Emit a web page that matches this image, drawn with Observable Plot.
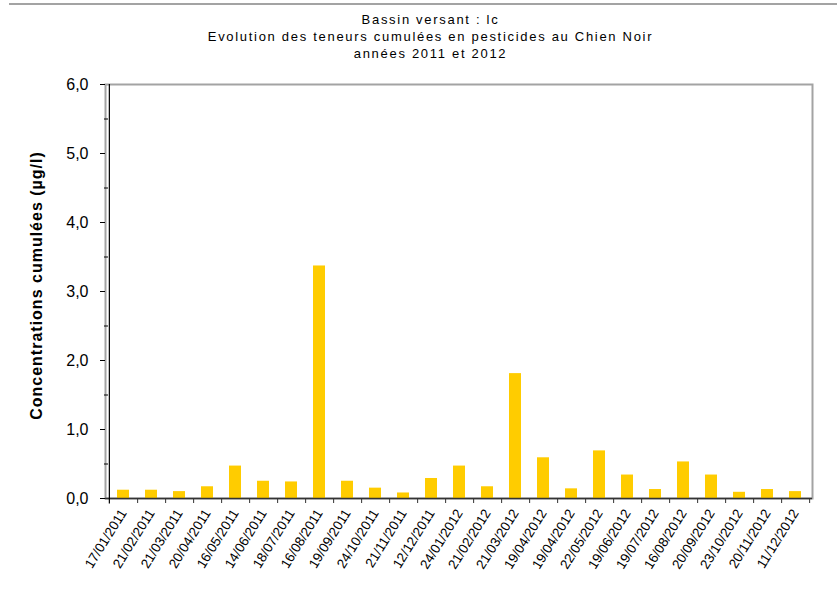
<!DOCTYPE html>
<html>
<head>
<meta charset="utf-8">
<script src="https://cdn.jsdelivr.net/npm/d3@7"></script>
<script src="https://cdn.jsdelivr.net/npm/@observablehq/plot@0.6"></script>
<style>
  html, body { margin: 0; padding: 0; background: #fff; }
  #wrap { position: relative; width: 837px; height: 598px; overflow: hidden; font-family: "Liberation Sans", Arial, sans-serif; }
  #topline { position: absolute; top: 3px; left: 9px; right: 0; height: 2px; background: #a3a3a3; }
  #title { box-sizing: border-box; height: 66px; padding-top: 11px; padding-left: 24px; text-align: center;
           font-size: 13px; line-height: 17px; letter-spacing: 1.7px; color: #000; }
  #chart svg { display: block; }
</style>
</head>
<body>
<div id="wrap">
  <div id="topline"></div>
  <div id="title">Bassin versant : lc<br>Evolution des teneurs cumulées en pesticides au Chien Noir<br>années 2011 et 2012</div>
  <div id="chart"></div>
</div>
<script>
const dates = ["17/01/2011","21/02/2011","21/03/2011","20/04/2011","16/05/2011","14/06/2011","18/07/2011","16/08/2011","19/09/2011","24/10/2011","21/11/2011","12/12/2011","24/01/2012","21/02/2012","21/03/2012","19/04/2012","19/04/2012","22/05/2012","19/06/2012","19/07/2012","16/08/2012","20/09/2012","23/10/2012","20/11/2012","11/12/2012"];
const values = [0.12,0.12,0.10,0.17,0.47,0.25,0.24,3.37,0.25,0.15,0.08,0.29,0.47,0.17,1.81,0.59,0.14,0.69,0.34,0.13,0.53,0.34,0.09,0.13,0.10];
const yMajor = [0,1,2,3,4,5,6];
const yMinor = [0.5,1.5,2.5,3.5,4.5,5.5];
const yTitle = "Concentrations cumulées (µg/l)";

const data = dates.map((d, i) => ({i, date: d, value: values[i]}));
const idx = d3.range(dates.length);

const W = 837, H = 532, mL = 105, mR = 25, mT = 18, mB = 100;
const step = (W - mL - mR) / dates.length;

const chart = Plot.plot({
  width: W, height: H,
  marginTop: mT, marginBottom: mB, marginLeft: mL, marginRight: mR,
  style: {fontFamily: "'Liberation Sans', Arial, sans-serif", background: "#fff", color: "#000", overflow: "visible"},
  x: {type: "band", domain: idx, paddingInner: 0.58, paddingOuter: 0.29, axis: null},
  y: {domain: [0, 6], axis: null},
  marks: [
    Plot.frame({stroke: "#a3a3a3", strokeWidth: 2}),
    Plot.barY(data, {x: "i", y: "value", fill: "#FFCC00"}),
    Plot.axisY({ticks: yMajor, tickFormat: d => d.toFixed(1).replace(".", ","), tickSize: 5, tickPadding: 12, fontSize: 16, stroke: "#000", label: null}),
    Plot.axisY({ticks: yMinor, tickFormat: () => "", tickSize: 4, dx: 3, stroke: "#000", label: null}),
    Plot.axisX({ticks: idx, tickFormat: () => "", tickSize: 5, dx: step / 2, stroke: "#333", label: null}),
    Plot.axisX({ticks: idx, tickSize: 0, tickPadding: 12, tickRotate: -58, tickFormat: i => dates[i], fontSize: 13.5, label: null}),
    Plot.ruleY([0], {stroke: "#333", strokeWidth: 1.5}),
    Plot.ruleX([0], {y1: -0.08, y2: 6, dx: -step / 2, stroke: "#000", strokeWidth: 1.2}),
    Plot.text([yTitle], {frameAnchor: "left", textAnchor: "middle", rotate: -90, dx: -69, dy: -6, fontWeight: "bold", fontSize: 16, fill: "#000"})
  ]
});
document.getElementById("chart").appendChild(chart);
d3.select(chart).selectAll("text").filter(function() { return this.textContent === yTitle; }).style("letter-spacing", "1px");
</script>
</body>
</html>
